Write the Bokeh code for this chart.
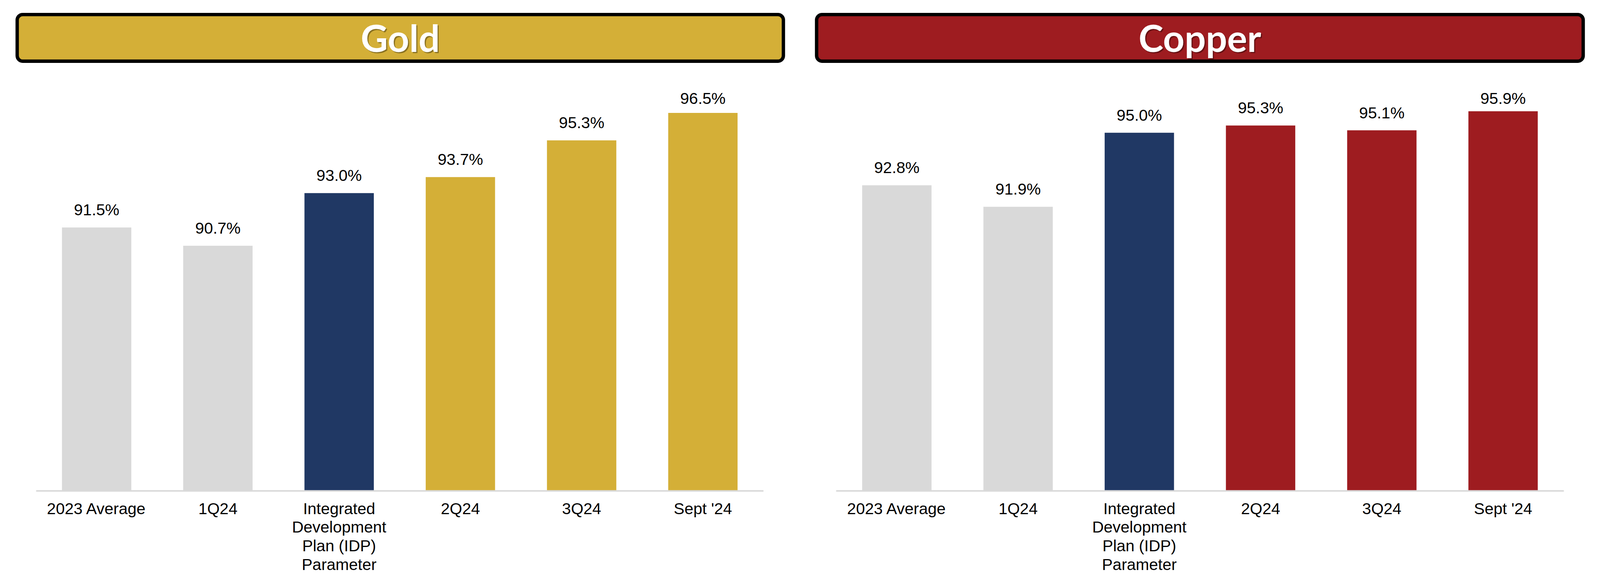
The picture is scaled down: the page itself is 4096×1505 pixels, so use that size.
from bokeh.plotting import figure
from bokeh.models import Range1d, FixedTicker, BoxAnnotation, Label
from bokeh.layouts import row
from bokeh.embed import file_html
from bokeh.resources import INLINE
from bokeh.core.properties import value
import numpy as np

# ---------------- data ----------------
categories = ["2023 Average", "1Q24", "Integrated\nDevelopment\nPlan (IDP)\nParameter",
              "2Q24", "3Q24", "Sept '24"]
gold_values = [91.5, 90.7, 93.0, 93.7, 95.3, 96.5]
copper_values = [92.8, 91.9, 95.0, 95.3, 95.1, 95.9]
panel_titles = ["Gold", "Copper"]
axis_floor = 80.0

# ---------------- styles ----------------
GRAY = "#d9d9d9"
NAVY = "#203864"
GOLD = "#d4af37"
COPPER = "#9e1c20"

W = 2040
FRAME_H = 1256
BOTTOM = 238
H = FRAME_H + BOTTOM
CAT_PX = 310.4
BAR_W = 0.572
LABEL_GAP = 45.0
LABEL_MAX_FROM_TOP = 251.0
TITLE_FONT = "Lato"
TITLE_SIZE = "96px"


def make_panel(title, vals, accent, axis_left_px, px_per_pct, box_l, box_r):
    colors = [GRAY, GRAY, NAVY, accent, accent, accent]
    x_start = -0.5 - axis_left_px / CAT_PX
    x_end = x_start + W / CAT_PX
    y_end = axis_floor + FRAME_H / px_per_pct
    p = figure(width=W, height=H, x_range=Range1d(x_start, x_end),
               y_range=Range1d(axis_floor, y_end), output_backend="svg",
               toolbar_location=None, title=None, y_axis_location=None,
               min_border=0, min_border_bottom=BOTTOM, min_border_left=0,
               min_border_right=0, min_border_top=0)
    p.outline_line_color = None
    p.xgrid.grid_line_color = None
    p.ygrid.grid_line_color = None
    p.background_fill_color = "white"
    p.border_fill_color = "white"

    idx = list(range(len(categories)))
    p.vbar(x=idx, top=vals, bottom=axis_floor, width=BAR_W, fill_color=colors,
           line_color=None)

    v = np.array(vals)
    label_y = np.minimum(v + LABEL_GAP / px_per_pct,
                         y_end - LABEL_MAX_FROM_TOP / px_per_pct)
    p.text(x=idx, y=list(label_y), text=[f"{x:.1f}%" for x in vals],
           text_font=value("Liberation Sans"), text_font_size="41px",
           text_align="center", text_baseline="alphabetic", text_color="black")

    ax = p.xaxis[0]
    ax.ticker = FixedTicker(ticks=idx)
    ax.major_label_overrides = {i: c for i, c in zip(idx, categories)}
    ax.bounds = (-0.5, len(categories) - 0.5)
    ax.axis_line_color = GRAY
    ax.axis_line_width = 4
    ax.major_tick_line_color = None
    ax.minor_tick_line_color = None
    ax.major_tick_out = 0
    ax.major_tick_in = 0
    ax.major_label_standoff = 22
    ax.major_label_text_font = "Liberation Sans"
    ax.major_label_text_font_size = "41px"
    ax.major_label_text_color = "black"
    ax.major_label_text_line_height = 1.043

    # title bar in pixel coordinates
    p.extra_x_ranges = {"px": Range1d(0, W)}
    p.extra_y_ranges = {"px": Range1d(0, FRAME_H)}
    lw = 8.6
    top_px = FRAME_H - 32.5
    bot_px = FRAME_H - 160.4
    box = BoxAnnotation(left=box_l + lw / 2, right=box_r - lw / 2,
                        top=top_px - lw / 2, bottom=bot_px + lw / 2,
                        x_range_name="px", y_range_name="px",
                        fill_color=accent, fill_alpha=1.0,
                        line_color="black", line_width=lw, line_alpha=1.0,
                        border_radius=14)
    p.add_layout(box)
    cx = (box_l + box_r) / 2
    base = FRAME_H - 95.0
    shadow = Label(x=cx + 3, y=base - 3, x_range_name="px", y_range_name="px",
                   text=title, text_font=TITLE_FONT, text_font_size=TITLE_SIZE,
                   text_font_style="bold", text_color="black", text_alpha=0.35,
                   text_align="center", text_baseline="alphabetic")
    lab = Label(x=cx, y=base, x_range_name="px", y_range_name="px",
                text=title, text_font=TITLE_FONT, text_font_size=TITLE_SIZE,
                text_font_style="bold", text_color="white",
                text_align="center", text_baseline="alphabetic")
    p.add_layout(shadow)
    p.add_layout(lab)
    return p


p_gold = make_panel(panel_titles[0], gold_values, GOLD, 91.7, 61.4 * 0.955, 39.2, 2009.3)
p_copper = make_panel(panel_titles[1], copper_values, COPPER, 100.2, 64.0 * 0.955, 45.7, 2016.8)

layout = row(p_gold, p_copper)
open("out.html", "w").write(file_html(layout, INLINE))
